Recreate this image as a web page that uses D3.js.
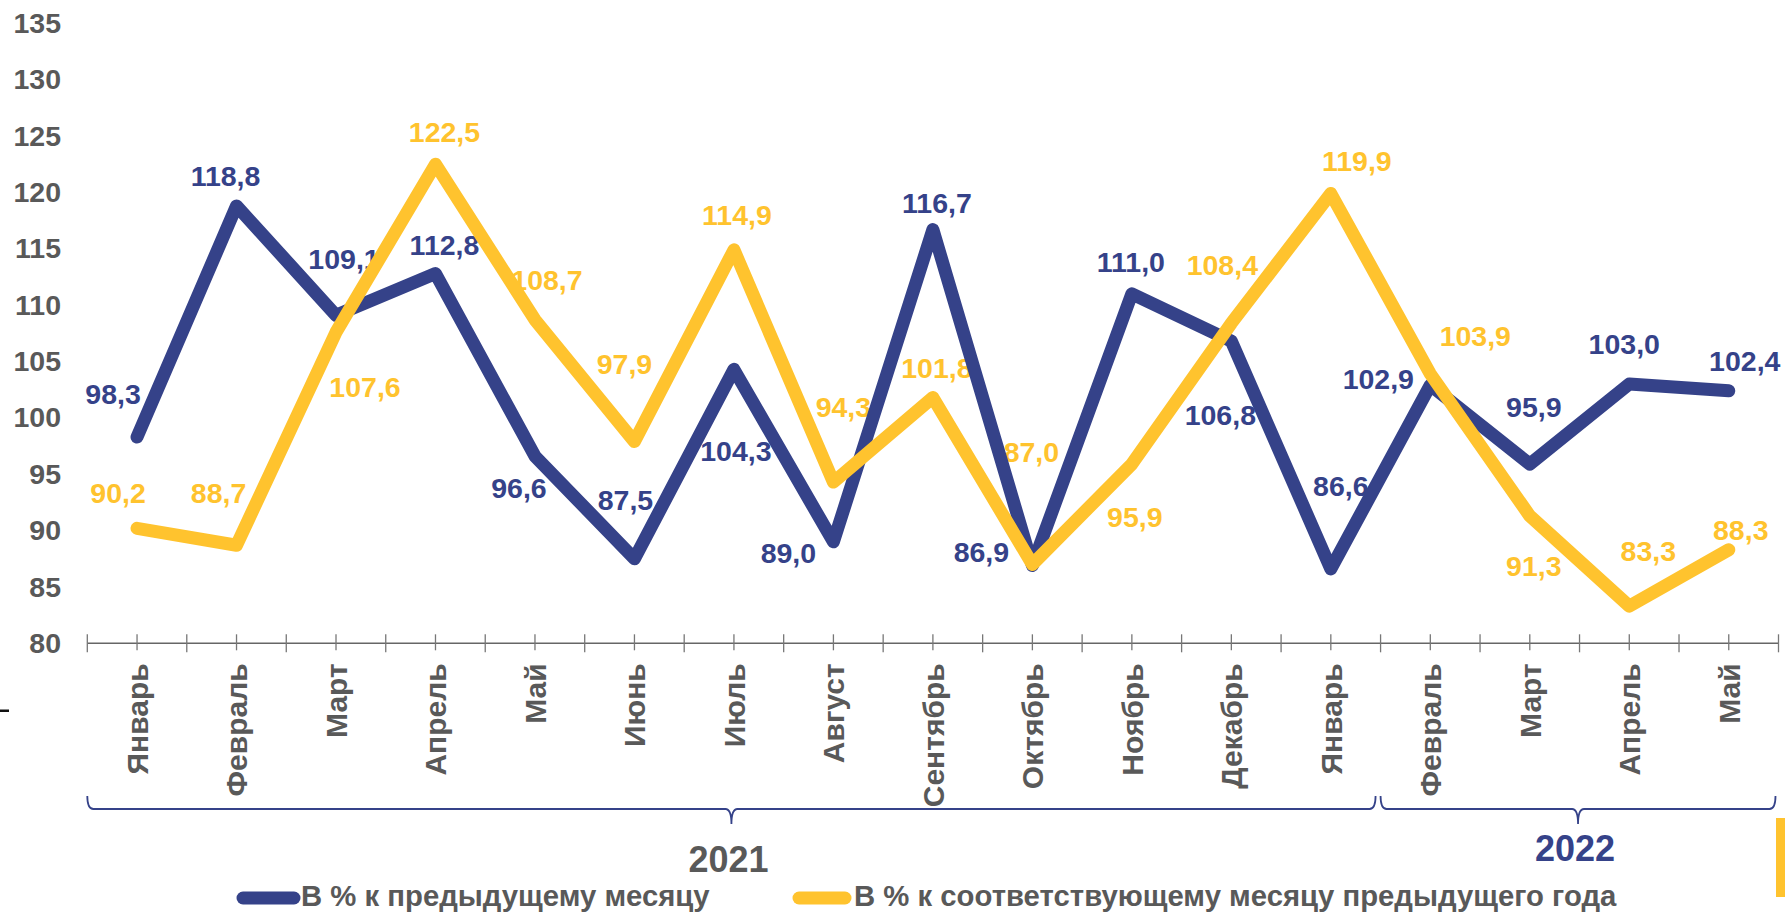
<!DOCTYPE html>
<html>
<head>
<meta charset="utf-8">
<script src="https://cdn.jsdelivr.net/npm/d3@7"></script>
<style>
  html, body { margin: 0; padding: 0; background: #fff; }
  svg { display: block; }
  text { font-family: "Liberation Sans", Arial, sans-serif; font-weight: bold; }
</style>
</head>
<body>
<svg id="chart" width="1785" height="916"></svg>
<script>
// ---------------- data ----------------
const categories = ["Январь","Февраль","Март","Апрель","Май","Июнь","Июль","Август","Сентябрь","Октябрь","Ноябрь","Декабрь","Январь","Февраль","Март","Апрель","Май"];
const prevMonth = [98.3,118.8,109.1,112.8,96.6,87.5,104.3,89.0,116.7,86.9,111.0,106.8,86.6,102.9,95.9,103.0,102.4];
const prevYear  = [90.2,88.7,107.6,122.5,108.7,97.9,114.9,94.3,101.8,87.0,95.9,108.4,119.9,103.9,91.3,83.3,88.3];
const yTicks = [80,85,90,95,100,105,110,115,120,125,130,135];
const years = ["2021","2022"];
const yearSpans = [[0,12],[13,16]];
const seriesNames = ["В % к предыдущему месяцу","В % к соответствующему месяцу предыдущего года"];

// label placement offsets (dx, dy from the point, px)
const prevMonthLabelOffsets = [[-24,-33],[-11,-20],[8,-46],[9,-19],[-16,42],[-9,-49],[2,92],[-45,21],[4,-17],[-51,-4],[-1,-22],[-11,84],[10,-73],[-52,4],[4,-47],[-5,-30],[16,-20]];
const prevYearLabelOffsets  = [[-19,-25],[-18,-42],[29,65],[9,-22],[12,-30],[-10,-68],[3,-25],[10,-65],[4,-20],[-1,-102],[3,63],[-9,-48],[26,-23],[45,-28],[4,60],[19,-45],[12,-10]];

// ---------------- styles ----------------
const NAVY = "#354289";
const YELLOW = "#FFC32E";
const GRAY = "#595959";

const svg = d3.select("#chart");
const x = d3.scaleBand().domain(d3.range(categories.length)).range([87.3, 1778.5]).padding(0);
const y = d3.scaleLinear().domain([80,135]).range([643.3, 23.3]);
const cx = i => x(i) + x.bandwidth()/2;
const fmt = d3.formatLocale({decimal: ",", thousands: " ", grouping: [3], currency: ["",""]}).format(".1f");

// y axis labels
const yAxis = d3.axisLeft(y).tickValues(yTicks).tickSize(0).tickPadding(0);
const gy = svg.append("g").attr("transform","translate(61,0)").call(yAxis);
gy.select(".domain").remove();
gy.selectAll("text").attr("fill", GRAY).style("font-size","28.5px").style("font-family","'Liberation Sans', Arial, sans-serif").style("font-weight","bold");

// x axis line + ticks
const axisY = y(80);
svg.append("line").attr("x1", x.range()[0]).attr("x2", x.range()[1]).attr("y1", axisY).attr("y2", axisY)
  .attr("stroke", "#666").attr("stroke-width", 1.5);
const bounds = d3.range(categories.length + 1).map(i => i < categories.length ? x(i) : x.range()[1]);
svg.append("g").selectAll("line").data(bounds).join("line")
  .attr("x1", d => d).attr("x2", d => d).attr("y1", axisY - 9).attr("y2", axisY + 9)
  .attr("stroke", "#777").attr("stroke-width", 1.3);
svg.append("g").selectAll("line").data(categories).join("line")
  .attr("x1", (d,i) => cx(i)).attr("x2", (d,i) => cx(i)).attr("y1", axisY - 9).attr("y2", axisY + 7)
  .attr("stroke", "#777").attr("stroke-width", 1.3);

// x labels rotated
svg.append("g").selectAll("text").data(categories).join("text")
  .attr("transform", (d,i) => `translate(${cx(i)},${axisY + 20}) rotate(-90)`)
  .attr("text-anchor", "end").attr("dy", "0.36em")
  .attr("fill", GRAY).style("font-size", "30px").text(d => d);

// year braces
const braceY = 809;
function bracePath(x0, x1) {
  const m = (x0 + x1) / 2;
  const r = 6;
  return `M${x0},${braceY-13} Q${x0},${braceY} ${x0+r},${braceY} L${m-r},${braceY} Q${m},${braceY} ${m},${braceY+15} Q${m},${braceY} ${m+r},${braceY} L${x1-r},${braceY} Q${x1},${braceY} ${x1},${braceY-13}`;
}
const braceG = svg.append("g");
yearSpans.forEach((s, k) => {
  const x0 = x(s[0]);
  const x1 = x(s[1]) + x.bandwidth() - (k === 0 ? 5 : 3);
  braceG.append("path").attr("d", bracePath(x0, x1)).attr("fill","none").attr("stroke", NAVY).attr("stroke-width", 1.8);
  braceG.append("text").attr("x", (x0+x1)/2 - 3).attr("y", k === 0 ? 872 : 861)
    .attr("text-anchor","middle").attr("fill", k === 0 ? GRAY : NAVY)
    .style("font-size", "36px").text(years[k]);
});

// data labels (drawn beneath lines)
const labelG = svg.append("g");
function drawLabels(vals, offs, color) {
  labelG.append("g").selectAll("text").data(vals).join("text")
    .attr("x", (d,i) => cx(i) + offs[i][0])
    .attr("y", (d,i) => y(d) + offs[i][1])
    .attr("text-anchor","middle").attr("fill", color)
    .style("font-size","28.5px").text(d => fmt(d));
}
drawLabels(prevMonth, prevMonthLabelOffsets, NAVY);
drawLabels(prevYear, prevYearLabelOffsets, YELLOW);

// lines
const line = d3.line().x((d,i) => cx(i)).y(d => y(d));
svg.append("path").datum(prevMonth).attr("d", line).attr("fill","none").attr("stroke", NAVY)
  .attr("stroke-width", 13).attr("stroke-linecap","round").attr("stroke-linejoin","round");
svg.append("path").datum(prevYear).attr("d", line).attr("fill","none").attr("stroke", YELLOW)
  .attr("stroke-width", 13).attr("stroke-linecap","round").attr("stroke-linejoin","round");

// legend
const legY = 898;
const leg = svg.append("g");
leg.append("line").attr("x1", 243).attr("x2", 294).attr("y1", legY).attr("y2", legY)
  .attr("stroke", NAVY).attr("stroke-width", 13).attr("stroke-linecap","round");
leg.append("text").attr("x", 301).attr("y", 906).attr("fill", GRAY).style("font-size","29.3px").text(seriesNames[0]);
leg.append("line").attr("x1", 799).attr("x2", 845).attr("y1", legY).attr("y2", legY)
  .attr("stroke", YELLOW).attr("stroke-width", 13).attr("stroke-linecap","round");
leg.append("text").attr("x", 854).attr("y", 906).attr("fill", GRAY).style("font-size","29.3px").text(seriesNames[1]);

// decorative marks at the edges
svg.append("rect").attr("x", 1776).attr("y", 818).attr("width", 9).attr("height", 79).attr("fill", YELLOW);
svg.append("rect").attr("x", 0).attr("y", 709.5).attr("width", 9).attr("height", 2.5).attr("fill", "#111");
</script>
</body>
</html>
